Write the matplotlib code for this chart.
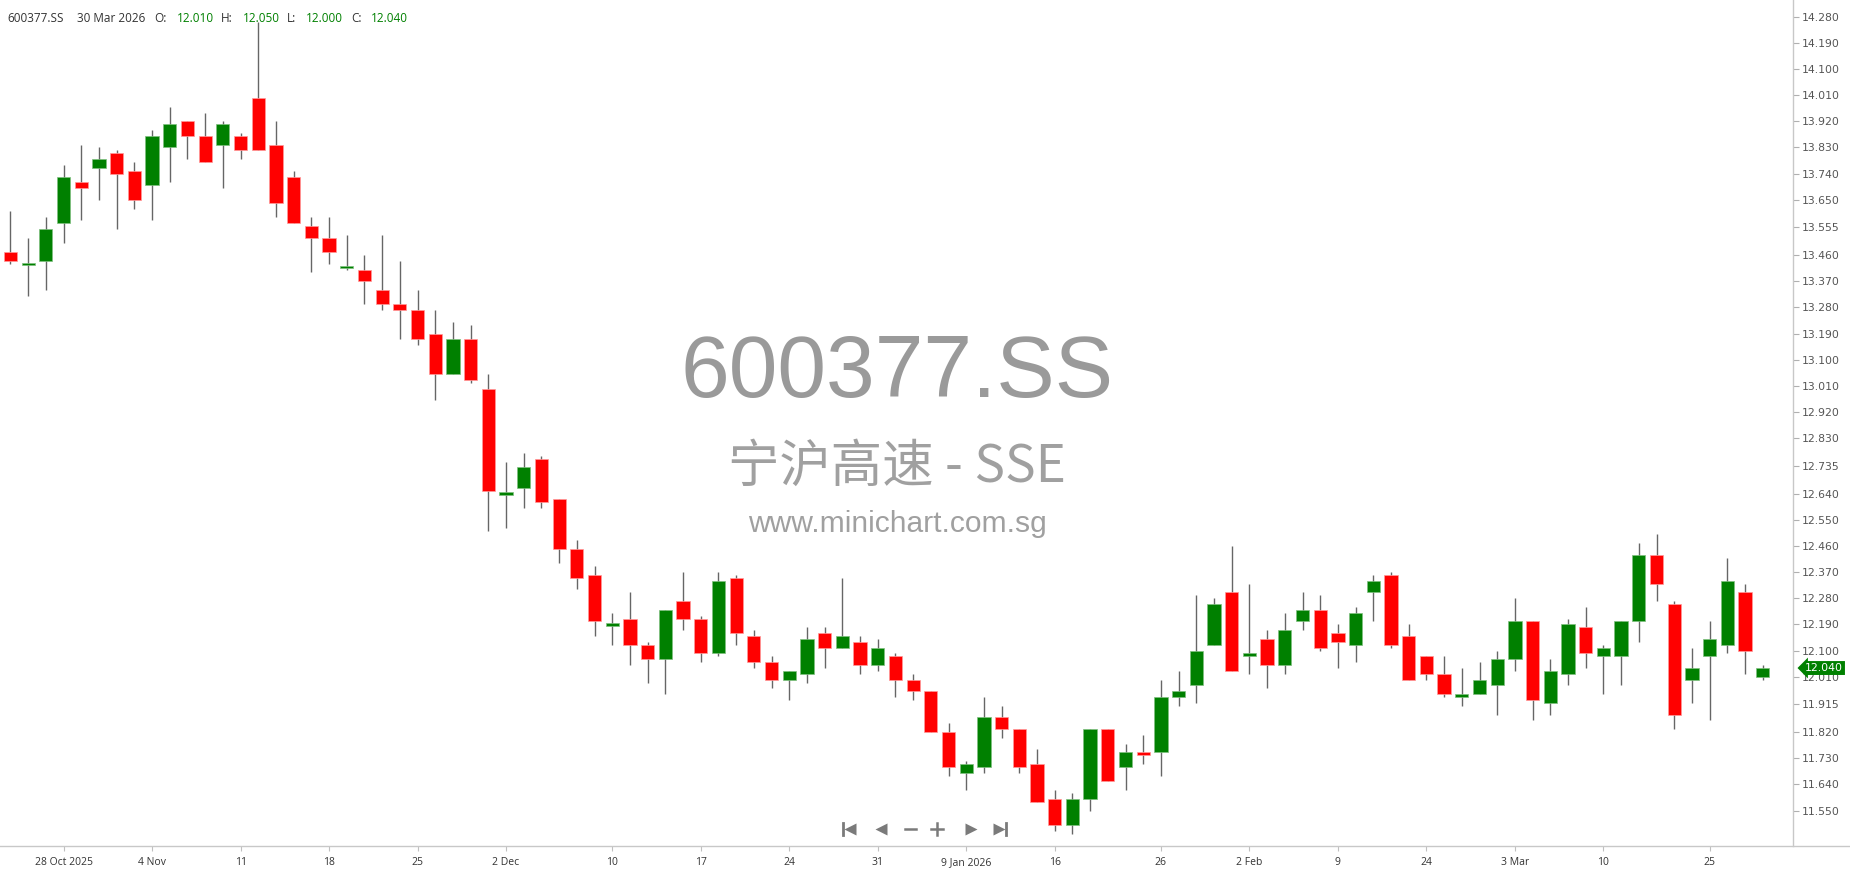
import numpy as np
import matplotlib.pyplot as plt
import matplotlib.transforms as mtransforms
from matplotlib.lines import Line2D

# OHLC values (23 Oct 2025 .. 30 Mar 2026)
opens = [13.47, 13.43, 13.44, 13.57, 13.71, 13.76, 13.81, 13.75, 13.70, 13.83,
         13.92, 13.87, 13.84, 13.87, 14.00, 13.84, 13.73, 13.56, 13.52, 13.42,
         13.41, 13.34, 13.29, 13.27, 13.19, 13.05, 13.17, 13.00, 12.64, 12.66,
         12.76, 12.62, 12.45, 12.36, 12.19, 12.21, 12.12, 12.07, 12.27, 12.21,
         12.09, 12.35, 12.15, 12.06, 12.00, 12.02, 12.16, 12.11, 12.13, 12.05,
         12.08, 12.00, 11.96, 11.82, 11.68, 11.70, 11.87, 11.83, 11.71, 11.59,
         11.50, 11.59, 11.83, 11.70, 11.75, 11.75, 11.94, 11.98, 12.12, 12.30,
         12.08, 12.14, 12.05, 12.20, 12.24, 12.16, 12.12, 12.30, 12.36, 12.15,
         12.08, 12.02, 11.94, 11.95, 11.98, 12.07, 12.20, 11.92, 12.02, 12.18,
         12.08, 12.08, 12.20, 12.43, 12.26, 12.00, 12.08, 12.12, 12.30, 12.01]
highs = [13.61, 13.52, 13.59, 13.77, 13.84, 13.83, 13.82, 13.78, 13.89, 13.97,
         13.92, 13.95, 13.92, 13.88, 14.26, 13.92, 13.75, 13.59, 13.59, 13.53,
         13.46, 13.53, 13.44, 13.34, 13.27, 13.23, 13.22, 13.05, 12.75, 12.78,
         12.77, 12.62, 12.48, 12.39, 12.23, 12.30, 12.13, 12.24, 12.37, 12.22,
         12.37, 12.36, 12.17, 12.08, 12.03, 12.18, 12.18, 12.35, 12.15, 12.14,
         12.09, 12.02, 11.96, 11.85, 11.72, 11.94, 11.91, 11.83, 11.76, 11.62,
         11.61, 11.83, 11.83, 11.78, 11.81, 12.00, 12.03, 12.29, 12.28, 12.46,
         12.33, 12.17, 12.23, 12.30, 12.29, 12.19, 12.25, 12.36, 12.37, 12.19,
         12.08, 12.08, 12.04, 12.06, 12.10, 12.28, 12.20, 12.07, 12.21, 12.25,
         12.12, 12.20, 12.47, 12.50, 12.27, 12.11, 12.20, 12.42, 12.33, 12.05]
lows = [13.43, 13.32, 13.34, 13.50, 13.58, 13.65, 13.55, 13.62, 13.58, 13.71,
        13.79, 13.78, 13.69, 13.79, 13.82, 13.59, 13.57, 13.40, 13.43, 13.41,
        13.29, 13.27, 13.17, 13.15, 12.96, 13.05, 13.02, 12.51, 12.52, 12.59,
        12.59, 12.40, 12.31, 12.15, 12.12, 12.05, 11.99, 11.95, 12.17, 12.06,
        12.08, 12.12, 12.04, 11.97, 11.93, 11.99, 12.04, 12.11, 12.02, 12.03,
        11.94, 11.93, 11.82, 11.67, 11.62, 11.68, 11.80, 11.68, 11.58, 11.48,
        11.47, 11.55, 11.65, 11.62, 11.71, 11.67, 11.91, 11.92, 12.12, 12.03,
        12.02, 11.97, 12.02, 12.17, 12.10, 12.04, 12.06, 12.20, 12.11, 12.00,
        12.00, 11.94, 11.91, 11.95, 11.88, 12.03, 11.86, 11.88, 11.98, 12.04,
        11.95, 11.98, 12.13, 12.27, 11.83, 11.92, 11.86, 12.09, 12.02, 12.00]
closes = [13.44, 13.43, 13.55, 13.73, 13.69, 13.79, 13.74, 13.65, 13.87, 13.91,
          13.87, 13.78, 13.91, 13.82, 13.82, 13.64, 13.57, 13.52, 13.47, 13.42,
          13.37, 13.29, 13.27, 13.17, 13.05, 13.17, 13.03, 12.65, 12.64, 12.73,
          12.61, 12.45, 12.35, 12.20, 12.19, 12.12, 12.07, 12.24, 12.21, 12.09,
          12.34, 12.16, 12.06, 12.00, 12.03, 12.14, 12.11, 12.15, 12.05, 12.11,
          12.00, 11.96, 11.82, 11.70, 11.71, 11.87, 11.83, 11.70, 11.58, 11.50,
          11.59, 11.83, 11.65, 11.75, 11.74, 11.94, 11.96, 12.10, 12.26, 12.03,
          12.09, 12.05, 12.17, 12.24, 12.11, 12.13, 12.23, 12.34, 12.12, 12.00,
          12.02, 11.95, 11.95, 12.00, 12.07, 12.20, 11.93, 12.03, 12.19, 12.09,
          12.11, 12.20, 12.43, 12.33, 11.88, 12.04, 12.14, 12.34, 12.10, 12.04]

date_tick_idx = [3, 8, 13, 18, 23, 28, 34, 39, 44, 49, 54, 59, 65, 70, 75, 80, 85, 90, 96]
date_tick_labels = ['28 Oct 2025', '4 Nov', '11', '18', '25', '2 Dec', '10', '17', '24', '31',
                    '9 Jan 2026', '16', '26', '2 Feb', '9', '24', '3 Mar', '10', '25']

price_ticks = [14.280, 14.190, 14.100, 14.010, 13.920, 13.830, 13.740, 13.650, 13.555, 13.460,
               13.370, 13.280, 13.190, 13.100, 13.010, 12.920, 12.830, 12.735, 12.640, 12.550,
               12.460, 12.370, 12.280, 12.190, 12.100, 12.010, 11.915, 11.820, 11.730, 11.640, 11.550]

symbol = '600377.SS'
name_line = '宁沪高速 - SSE'
site = 'www.minichart.com.sg'
last_date = '30 Mar 2026'

W, H = 1850, 874
GREEN = '#008000'
RED = '#ff0000'

o = np.array(opens); h = np.array(highs); l = np.array(lows); c = np.array(closes)
x = np.arange(len(o))

fig = plt.figure(figsize=(W / 100, H / 100), dpi=100)
fig.patch.set_facecolor('white')
ax = fig.add_axes([0, 1 - 846 / H, 1793 / W, 846 / H])

# watermark
fig.text(897 / W, 1 - 397 / H, symbol, ha='center', va='baseline', fontsize=63,
         color='#9a9a9a', family='Liberation Sans', zorder=0)
fig.text(897 / W, 1 - 482 / H, name_line, ha='center', va='baseline', fontsize=37,
         color='#a0a0a0', family=['Noto Sans CJK SC', 'DejaVu Sans'], zorder=0)
fig.text(897 / W, 1 - 532 / H, site, ha='center', va='baseline', fontsize=21.6,
         color='#a0a0a0', family='Liberation Sans', zorder=0)

# candles
up = c >= o
cols = np.where(up, GREEN, RED)
ax.vlines(x, l, h, color='#666666', lw=1.0, zorder=2)
body = np.abs(c - o)
bh = np.maximum(body, 0.008)
bottom = np.minimum(o, c) - (bh - body) / 2
ax.bar(x, bh, bottom=bottom, width=0.75, color=cols, edgecolor=np.where(up, '#7fbf7f', '#ff9a9a'),
       linewidth=0.5, zorder=3)

ax.set_xlim(-0.59, 100.71)
ax.set_ylim(11.428, 14.337)
ax.patch.set_alpha(0)

for s in ['top', 'left', 'bottom']:
    ax.spines[s].set_visible(False)
ax.spines['right'].set_color('#c8c8c8')
ax.spines['right'].set_linewidth(1.0)

ax.yaxis.tick_right()
ax.set_yticks(price_ticks)
ax.set_yticklabels([f'{v:.3f}' for v in price_ticks])
ax.tick_params(axis='y', length=4, width=0.8, color='#b0b0b0', pad=2, labelsize=7.8,
               labelcolor='#555555')

# date ticks, labels drawn on a common baseline
ax.set_xticks(date_tick_idx)
ax.set_xticklabels([])
ax.tick_params(axis='x', length=3.6, width=0.8, color='#c0c0c0')
lab_tr = mtransforms.offset_copy(ax.get_xaxis_transform(), fig=fig, x=0, y=-19, units='dots')
for xi, lab in zip(date_tick_idx, date_tick_labels):
    ax.text(xi, 0, lab, transform=lab_tr, ha='center', va='baseline', fontsize=7.5,
            color='#333333', family='Open Sans', clip_on=False)

# baseline across the full width
fig.add_artist(Line2D([0, 1], [1 - 846 / H, 1 - 846 / H], transform=fig.transFigure,
                      color='#c8c8c8', lw=1.0))

# last price tag
ax.annotate(f'{c[-1]:.3f}', xy=(1, c[-1]), xycoords=('axes fraction', 'data'),
            xytext=(12, 0), textcoords='offset pixels', ha='left', va='center',
            color='white', fontsize=7.8, annotation_clip=False, zorder=5,
            bbox=dict(boxstyle='larrow,pad=0.18', fc=GREEN, ec='none'))

# header
hy = 1 - 18 / H
hdr = [(7, symbol, '#333333'), (77, last_date, '#333333'),
       (154, 'O:', '#333333'), (177, f'{o[-1]:.3f}', GREEN),
       (221, 'H:', '#333333'), (243, f'{h[-1]:.3f}', GREEN),
       (287, 'L:', '#333333'), (306, f'{l[-1]:.3f}', GREEN),
       (351, 'C:', '#333333'), (371, f'{c[-1]:.3f}', GREEN)]
for px, txt, col in hdr:
    fig.text(px / W, hy, txt, ha='left', va='center', fontsize=8.5, color=col,
             family='Open Sans')

# navigation icons
nav = fig.add_axes([0, 0, 1, 1], facecolor='none')
nav.set_xlim(0, W)
nav.set_ylim(H, 0)
nav.axis('off')
ic = '#7a7a7a'
ny = 829
nav.plot([843, 843], [ny - 6, ny + 6], color=ic, lw=2)
nav.plot(850, ny, marker='<', ms=8, color=ic, mec='none')
nav.plot(881, ny, marker='<', ms=8, color=ic, mec='none')
nav.plot([905, 916], [ny, ny], color=ic, lw=1.8)
nav.plot([931, 943], [ny, ny], color=ic, lw=1.8)
nav.plot([937, 937], [ny - 6, ny + 6], color=ic, lw=1.8)
nav.plot(971, ny, marker='>', ms=8, color=ic, mec='none')
nav.plot(999, ny, marker='>', ms=8, color=ic, mec='none')
nav.plot([1006, 1006], [ny - 6, ny + 6], color=ic, lw=2)

fig.savefig('out.png', dpi=100, facecolor='white')
